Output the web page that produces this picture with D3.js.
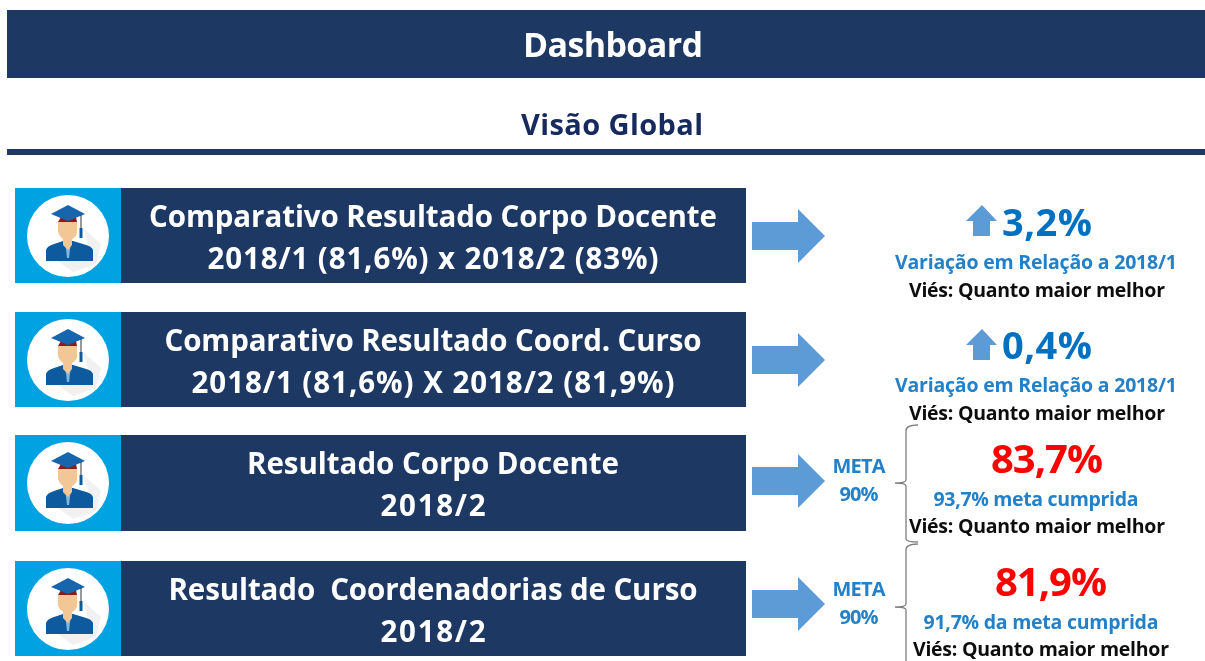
<!DOCTYPE html>
<html>
<head>
<meta charset="utf-8">
<script src="https://cdn.jsdelivr.net/npm/d3@7"></script>
<style>
html, body { margin: 0; padding: 0; background: #fff; }
svg { display: block; }
text { font-family: "Open Sans", sans-serif; font-weight: 700; text-anchor: middle; }
</style>
</head>
<body>
<div id="chart"></div>
<script>
// text
var pageTitle = "Dashboard";
var pageSubtitle = "Visão Global";
var rowLine1 = ["Comparativo Resultado Corpo Docente", "Comparativo Resultado Coord. Curso", "Resultado Corpo Docente", "Resultado  Coordenadorias de Curso"];
var rowLine2 = ["2018/1 (81,6%) x 2018/2 (83%)", "2018/1 (81,6%) X 2018/2 (81,9%)", "2018/2", "2018/2"];
var bigValues = ["3,2%", "0,4%", "83,7%", "81,9%"];
var notes = ["Variação em Relação a 2018/1", "Variação em Relação a 2018/1", "93,7% meta cumprida", "91,7% da meta cumprida"];
var viesLabels = ["Viés: Quanto maior melhor", "Viés: Quanto maior melhor", "Viés: Quanto maior melhor", "Viés: Quanto maior melhor"];
var metaLabels = [null, null, "90%", "90%"];
var hasUpArrow = [true, true, false, false];

// layout, one entry per row
var rowTop = [188, 312, 435, 561];
var rowHeight = [95, 95, 96, 95];
var arrowMid = [236, 360, 481, 604];
var bigBase = [236, 359, 473, 596];
var bigX = [1047, 1047, 1047, 1051];
var bigSize = [38, 38, 40, 40];
var bigWidth = [90, 90, 112, 112];
var noteBase = [269, 392, 506, 629];
var noteX = [1036, 1036, 1036, 1041];
var noteWidth = [282, 282, 205, 235];
var viesBase = [297, 420, 533, 656];
var viesX = [1037, 1037, 1037, 1041];
var line1Width = [568, 537, 372, 529];
var line2Width = [451, 483, 105, 105];

var NAVY = "#1f3864", SKY = "#00a2e2", ARROW = "#5b9bd5", BLUE = "#0070c0", NOTE = "#2481c8";

var svg = d3.select("#chart").append("svg")
    .attr("width", 1205)
    .attr("height", 661);

// soften everything a little, the source is an upscaled screenshot
svg.append("defs").append("filter").attr("id", "soft")
    .append("feGaussianBlur").attr("stdDeviation", 0.45);

var root = svg.append("g").attr("filter", "url(#soft)");

// stretch a label to the width it has in the picture
function label(g, x, y, size, fill, str, width) {
    var t = g.append("text").attr("x", x).attr("y", y).attr("fill", fill).attr("font-size", size)
        .style("white-space", "pre").text(str);
    if (width) t.attr("textLength", width).attr("lengthAdjust", "spacing");
    return t;
}

// header
root.append("rect").attr("x", 7).attr("y", 10).attr("width", 1198).attr("height", 68).attr("fill", NAVY);
label(root, 613, 57, 34, "#fff", pageTitle, 180);
label(root, 612, 135, 29, "#17295f", pageSubtitle, 182);
root.append("rect").attr("x", 7).attr("y", 149).attr("width", 1198).attr("height", 6).attr("fill", NAVY);

var line = d3.line();

function drawIcon(g, cy) {
    var icon = g.append("g").attr("transform", "translate(68," + cy + ")");
    icon.append("circle").attr("r", 41).attr("fill", "#fff");
    // long shadow, lower right
    icon.append("path").attr("fill", "#f1f1f1").attr("d", line([[15, -8], [33, 8], [28, 28], [5, 36], [-10, 25], [25, 25]]) + "Z");
    // shoulders
    icon.append("path").attr("fill", "#0f5a9e")
        .attr("d", "M-22,25 L-22,14 Q-21,10 -14,8 L-5,5 L5,5 L15,8 Q24,10 25,14 L25,25 Z");
    // collar and tie
    icon.append("path").attr("fill", "#7db7e0").attr("d", line([[-3, 5], [3, 5], [1, 22], [-1, 22]]));
    // face
    icon.append("path").attr("fill", "#f2c795")
        .attr("d", "M-10,-14 L9,-14 L9,-3 Q8,1 4,3 L4,9 L0,14 L-5,9 L-5,3 Q-9,0 -10,-4 Z");
    // hair
    icon.append("path").attr("fill", "#8a1f1f").attr("d", line([[-10, -14], [-7, -19], [8, -19], [9, -14]]));
    // cap
    icon.append("path").attr("fill", "#1565ad").attr("d", line([[-17, -22], [0, -31], [17, -22], [0, -15]]));
    // tassel
    icon.append("path").attr("stroke", "#333").attr("stroke-width", 1).attr("fill", "none").attr("d", line([[13, -21], [13, -8]]));
    icon.append("rect").attr("x", 11.5).attr("y", -8).attr("width", 3).attr("height", 10).attr("fill", "#0f5a9e");
}

function drawArrow(g, x0, x1, xh, mid, shaft, head) {
    g.append("path").attr("fill", ARROW).attr("d", line([
        [x0, mid - shaft], [xh, mid - shaft], [xh, mid - head], [x1, mid],
        [xh, mid + head], [xh, mid + shaft], [x0, mid + shaft]
    ]) + "Z");
}

function drawBrace(g, top, tipY, bottom) {
    g.append("path").attr("fill", "none").attr("stroke", "#7f7f7f").attr("stroke-width", 1.3)
        .attr("d", "M918," + top + " Q906," + top + " 906," + (top + 6) +
            " L906," + (tipY - 3) + " Q906," + tipY + " 895," + tipY +
            " Q906," + tipY + " 906," + (tipY + 3) +
            " L906," + (bottom - 3) + " Q906," + bottom + " 918," + bottom);
}

var rows = root.selectAll(".row").data(d3.range(rowLine1.length)).enter()
    .append("g").attr("class", "row");

rows.each(function (i) {
    var g = d3.select(this);
    var top = rowTop[i], h = rowHeight[i];

    g.append("rect").attr("x", 15).attr("y", top).attr("width", 106).attr("height", h).attr("fill", SKY);
    g.append("rect").attr("x", 121).attr("y", top).attr("width", 625).attr("height", h).attr("fill", NAVY);
    drawIcon(g, top + 48);

    label(g, 433, top + 39, 29.5, "#fff", rowLine1[i], line1Width[i]);
    label(g, 433, top + 81, 29.5, "#fff", rowLine2[i], line2Width[i]);

    drawArrow(g, 752, 825, 798, arrowMid[i], 14, 27);

    if (hasUpArrow[i]) {
        var tip = arrowMid[i] - 31;
        g.append("path").attr("fill", ARROW).attr("d", line([
            [982, tip], [997, tip + 16], [990, tip + 16], [990, tip + 31],
            [973, tip + 31], [973, tip + 16], [966, tip + 16]
        ]) + "Z");
    }

    label(g, bigX[i], bigBase[i], bigSize[i], hasUpArrow[i] ? BLUE : "#ff0000", bigValues[i], bigWidth[i]);
    label(g, noteX[i], noteBase[i], 19.5, NOTE, notes[i], noteWidth[i]);
    label(g, viesX[i], viesBase[i], 19.5, "#111", viesLabels[i], 256);

    if (metaLabels[i]) {
        label(g, 859, arrowMid[i] - 8, 20, NOTE, "META", 53);
        label(g, 859, arrowMid[i] + 20, 20, NOTE, metaLabels[i], 39);
    }
});

drawBrace(root, 425, 483, 542);
drawBrace(root, 544, 607, 680);
</script>
</body>
</html>
